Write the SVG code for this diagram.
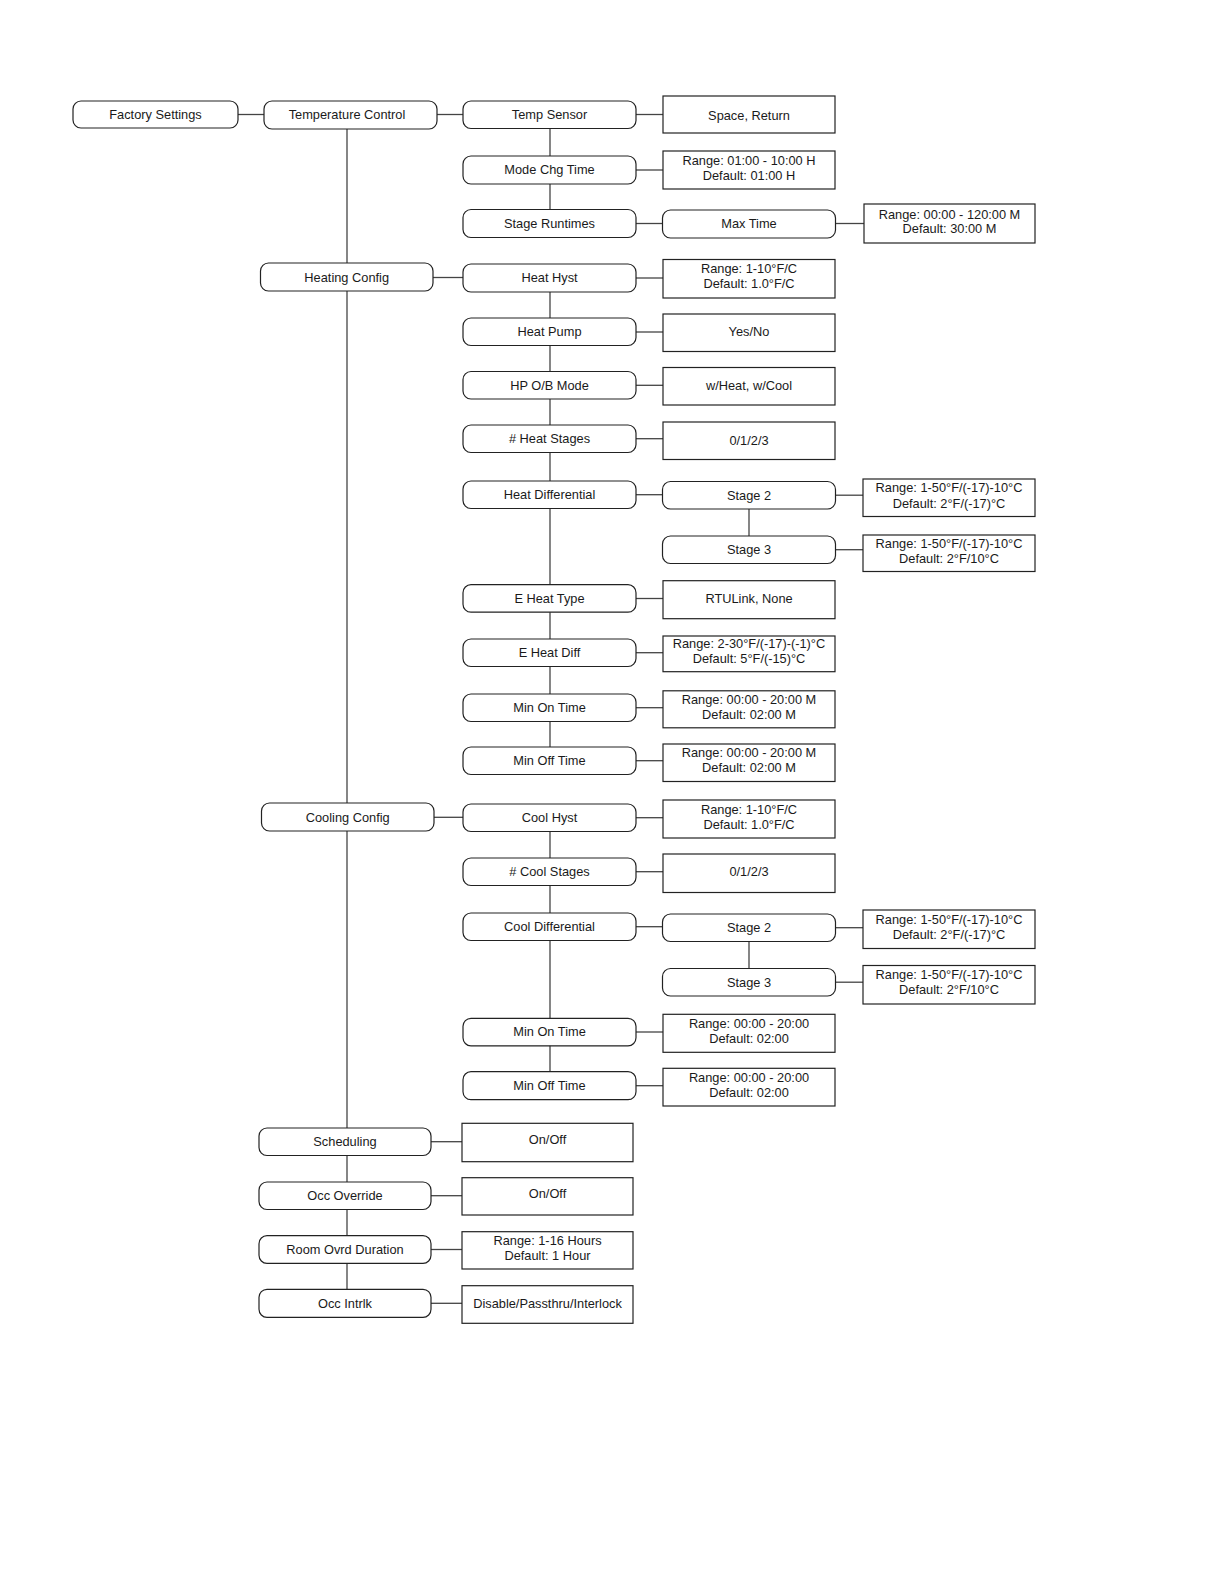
<svg xmlns="http://www.w3.org/2000/svg" width="1224" height="1584" viewBox="0 0 1224 1584">
<style>
.p{fill:#fff;stroke:#222;stroke-width:1.2}
.b{fill:#fff;stroke:#222;stroke-width:1.2}
#connectors line{stroke:#444;stroke-width:1.3}
text{font-family:"Liberation Sans",Arial,sans-serif;font-size:12.8px;fill:#1a1a1a;text-anchor:middle}
</style>
<rect width="1224" height="1584" fill="#fff"/>
<g id="connectors">
<line x1="347" y1="128" x2="347" y2="1289.3"/>
<line x1="550" y1="128.5" x2="550" y2="209.5"/>
<line x1="550" y1="292" x2="550" y2="747"/>
<line x1="550" y1="831.5" x2="550" y2="1071.7"/>
<line x1="749" y1="509" x2="749" y2="536"/>
<line x1="749" y1="941.5" x2="749" y2="968.5"/>
<line x1="238" y1="114.5" x2="264" y2="114.5"/>
<line x1="437" y1="114.5" x2="463" y2="114.5"/>
<line x1="636" y1="114.5" x2="663" y2="114.5"/>
<line x1="636" y1="170" x2="663" y2="170"/>
<line x1="636" y1="223.5" x2="662.5" y2="223.5"/>
<line x1="835.5" y1="223.5" x2="864" y2="223.5"/>
<line x1="433" y1="277.5" x2="463" y2="277.5"/>
<line x1="636" y1="278" x2="663" y2="278"/>
<line x1="636" y1="332" x2="663" y2="332"/>
<line x1="636" y1="385.3" x2="663" y2="385.3"/>
<line x1="636" y1="438.7" x2="663" y2="438.7"/>
<line x1="636" y1="494.7" x2="662.5" y2="494.7"/>
<line x1="835.5" y1="495.2" x2="863" y2="495.2"/>
<line x1="835.5" y1="549.7" x2="863" y2="549.7"/>
<line x1="636" y1="598.5" x2="663" y2="598.5"/>
<line x1="636" y1="652.7" x2="663" y2="652.7"/>
<line x1="636" y1="707.7" x2="663" y2="707.7"/>
<line x1="636" y1="760.7" x2="663" y2="760.7"/>
<line x1="434" y1="817.3" x2="463" y2="817.3"/>
<line x1="636" y1="817.7" x2="663" y2="817.7"/>
<line x1="636" y1="871.7" x2="663" y2="871.7"/>
<line x1="636" y1="926.7" x2="662.5" y2="926.7"/>
<line x1="835.5" y1="927.7" x2="863" y2="927.7"/>
<line x1="835.5" y1="982.2" x2="863" y2="982.2"/>
<line x1="636" y1="1032" x2="663" y2="1032"/>
<line x1="636" y1="1085.7" x2="663" y2="1085.7"/>
<line x1="431" y1="1141.7" x2="462" y2="1141.7"/>
<line x1="431" y1="1195.7" x2="462" y2="1195.7"/>
<line x1="431" y1="1249.5" x2="462" y2="1249.5"/>
<line x1="431" y1="1303.3" x2="462" y2="1303.3"/>
</g>

<g id="factory-settings"><rect class="p" x="73" y="101" width="165" height="27" rx="8"/><text x="155.5" y="119">Factory Settings</text></g>
<g id="temperature-control"><rect class="p" x="264" y="101" width="173" height="28" rx="8"/><text x="347" y="119">Temperature Control</text></g>
<g id="heating-config"><rect class="p" x="260.5" y="263" width="172.5" height="28" rx="8"/><text x="346.7" y="281.5">Heating Config</text></g>
<g id="cooling-config"><rect class="p" x="261.5" y="803" width="172.5" height="28" rx="8"/><text x="347.7" y="821.5">Cooling Config</text></g>
<g id="scheduling"><rect class="p" x="259" y="1128" width="172" height="27.5" rx="8"/><text x="345" y="1146">Scheduling</text></g>
<g id="occ-override"><rect class="p" x="259" y="1182" width="172" height="27.5" rx="8"/><text x="345" y="1200">Occ Override</text></g>
<g id="room-ovrd-duration"><rect class="p" x="259" y="1235.7" width="172" height="27.6" rx="8"/><text x="345" y="1254">Room Ovrd Duration</text></g>
<g id="occ-intrlk"><rect class="p" x="259" y="1289.3" width="172" height="28" rx="8"/><text x="345" y="1307.7">Occ Intrlk</text></g>

<g id="temp-sensor"><rect class="p" x="463" y="101" width="173" height="27.5" rx="8"/><text x="549.5" y="119">Temp Sensor</text></g>
<g id="mode-chg-time"><rect class="p" x="463" y="156" width="173" height="28" rx="8"/><text x="549.5" y="174.4">Mode Chg Time</text></g>
<g id="stage-runtimes"><rect class="p" x="463" y="209.5" width="173" height="28" rx="8"/><text x="549.5" y="227.9">Stage Runtimes</text></g>
<g id="heat-hyst"><rect class="p" x="463" y="264" width="173" height="28" rx="8"/><text x="549.5" y="282.4">Heat Hyst</text></g>
<g id="heat-pump"><rect class="p" x="463" y="318" width="173" height="27.5" rx="8"/><text x="549.5" y="336.2">Heat Pump</text></g>
<g id="hp-ob-mode"><rect class="p" x="463" y="371.5" width="173" height="27.5" rx="8"/><text x="549.5" y="389.6">HP O/B Mode</text></g>
<g id="heat-stages"><rect class="p" x="463" y="425" width="173" height="27.5" rx="8"/><text x="549.5" y="443">&#35; Heat Stages</text></g>
<g id="heat-differential"><rect class="p" x="463" y="481" width="173" height="27.5" rx="8"/><text x="549.5" y="499">Heat Differential</text></g>
<g id="e-heat-type"><rect class="p" x="463" y="584.7" width="173" height="27.5" rx="8"/><text x="549.5" y="602.8">E Heat Type</text></g>
<g id="e-heat-diff"><rect class="p" x="463" y="639" width="173" height="27.5" rx="8"/><text x="549.5" y="657">E Heat Diff</text></g>
<g id="heat-min-on-time"><rect class="p" x="463" y="694" width="173" height="27.5" rx="8"/><text x="549.5" y="712">Min On Time</text></g>
<g id="heat-min-off-time"><rect class="p" x="463" y="747" width="173" height="27.5" rx="8"/><text x="549.5" y="765">Min Off Time</text></g>
<g id="cool-hyst"><rect class="p" x="463" y="804" width="173" height="27.5" rx="8"/><text x="549.5" y="822">Cool Hyst</text></g>
<g id="cool-stages"><rect class="p" x="463" y="858" width="173" height="27.5" rx="8"/><text x="549.5" y="876">&#35; Cool Stages</text></g>
<g id="cool-differential"><rect class="p" x="463" y="913" width="173" height="27.5" rx="8"/><text x="549.5" y="931">Cool Differential</text></g>
<g id="cool-min-on-time"><rect class="p" x="463" y="1018.3" width="173" height="27.5" rx="8"/><text x="549.5" y="1036.3">Min On Time</text></g>
<g id="cool-min-off-time"><rect class="p" x="463" y="1071.7" width="173" height="28" rx="8"/><text x="549.5" y="1090">Min Off Time</text></g>

<g id="temp-sensor-values"><rect class="b" x="663" y="96" width="172" height="37"/><text x="749" y="119.5">Space, Return</text></g>
<g id="mode-chg-values"><rect class="b" x="663" y="151" width="172" height="38"/><text x="749" y="164.5">Range: 01:00 - 10:00 H</text><text x="749" y="179.5">Default: 01:00 H</text></g>
<g id="max-time"><rect class="p" x="662.5" y="210" width="173" height="28" rx="8"/><text x="749" y="228.4">Max Time</text></g>
<g id="max-time-values"><rect class="b" x="864" y="204" width="171" height="39"/><text x="949.5" y="218.5">Range: 00:00 - 120:00 M</text><text x="949.5" y="233">Default: 30:00 M</text></g>
<g id="heat-hyst-values"><rect class="b" x="663" y="259.5" width="172" height="38.5"/><text x="749" y="273">Range: 1-10°F/C</text><text x="749" y="288">Default: 1.0°F/C</text></g>
<g id="heat-pump-values"><rect class="b" x="663" y="314" width="172" height="37.5"/><text x="749" y="336">Yes/No</text></g>
<g id="hp-ob-values"><rect class="b" x="663" y="367.5" width="172" height="37.5"/><text x="749" y="390">w/Heat, w/Cool</text></g>
<g id="heat-stages-values"><rect class="b" x="663" y="422" width="172" height="37.5"/><text x="749" y="444.5">0/1/2/3</text></g>
<g id="heat-stage-2"><rect class="p" x="662.5" y="481.5" width="173" height="27.5" rx="8"/><text x="749" y="499.5">Stage 2</text></g>
<g id="heat-stage-2-values"><rect class="b" x="863" y="479" width="172" height="37.5"/><text x="949" y="492.3">Range: 1-50°F/(-17)-10°C</text><text x="949" y="507.5">Default: 2°F/(-17)°C</text></g>
<g id="heat-stage-3"><rect class="p" x="662.5" y="536" width="173" height="27.5" rx="8"/><text x="749" y="554">Stage 3</text></g>
<g id="heat-stage-3-values"><rect class="b" x="863" y="535" width="172" height="36.5"/><text x="949" y="547.7">Range: 1-50°F/(-17)-10°C</text><text x="949" y="562.7">Default: 2°F/10°C</text></g>
<g id="e-heat-type-values"><rect class="b" x="663" y="580.7" width="172" height="38"/><text x="749" y="603">RTULink, None</text></g>
<g id="e-heat-diff-values"><rect class="b" x="663" y="636" width="172" height="35.7"/><text x="749" y="648.3">Range: 2-30°F/(-17)-(-1)°C</text><text x="749" y="663.3">Default: 5°F/(-15)°C</text></g>
<g id="heat-min-on-values"><rect class="b" x="663" y="690.8" width="172" height="37"/><text x="749" y="703.8">Range: 00:00 - 20:00 M</text><text x="749" y="718.8">Default: 02:00 M</text></g>
<g id="heat-min-off-values"><rect class="b" x="663" y="744" width="172" height="37.5"/><text x="749" y="757.2">Range: 00:00 - 20:00 M</text><text x="749" y="772.2">Default: 02:00 M</text></g>
<g id="cool-hyst-values"><rect class="b" x="663" y="800" width="172" height="38"/><text x="749" y="813.5">Range: 1-10°F/C</text><text x="749" y="828.5">Default: 1.0°F/C</text></g>
<g id="cool-stages-values"><rect class="b" x="663" y="854" width="172" height="38.5"/><text x="749" y="876">0/1/2/3</text></g>
<g id="cool-stage-2"><rect class="p" x="662.5" y="914" width="173" height="27.5" rx="8"/><text x="749" y="932">Stage 2</text></g>
<g id="cool-stage-2-values"><rect class="b" x="863" y="910" width="172" height="38.5"/><text x="949" y="923.7">Range: 1-50°F/(-17)-10°C</text><text x="949" y="938.7">Default: 2°F/(-17)°C</text></g>
<g id="cool-stage-3"><rect class="p" x="662.5" y="968.5" width="173" height="27.5" rx="8"/><text x="749" y="986.5">Stage 3</text></g>
<g id="cool-stage-3-values"><rect class="b" x="863" y="965.5" width="172" height="38.5"/><text x="949" y="979.2">Range: 1-50°F/(-17)-10°C</text><text x="949" y="994.2">Default: 2°F/10°C</text></g>
<g id="cool-min-on-values"><rect class="b" x="663" y="1014.3" width="172" height="38"/><text x="749" y="1027.8">Range: 00:00 - 20:00</text><text x="749" y="1042.8">Default: 02:00</text></g>
<g id="cool-min-off-values"><rect class="b" x="663" y="1068.3" width="172" height="37.7"/><text x="749" y="1081.7">Range: 00:00 - 20:00</text><text x="749" y="1096.7">Default: 02:00</text></g>

<g id="scheduling-values"><rect class="b" x="462" y="1123.3" width="171" height="38.4"/><text x="547.5" y="1144">On/Off</text></g>
<g id="occ-override-values"><rect class="b" x="462" y="1177.7" width="171" height="37.3"/><text x="547.5" y="1198">On/Off</text></g>
<g id="room-ovrd-values"><rect class="b" x="462" y="1231.7" width="171" height="37.3"/><text x="547.5" y="1245">Range: 1-16 Hours</text><text x="547.5" y="1260">Default: 1 Hour</text></g>
<g id="occ-intrlk-values"><rect class="b" x="462" y="1285.7" width="171" height="37.6"/><text x="547.5" y="1307.8">Disable/Passthru/Interlock</text></g>
</svg>
